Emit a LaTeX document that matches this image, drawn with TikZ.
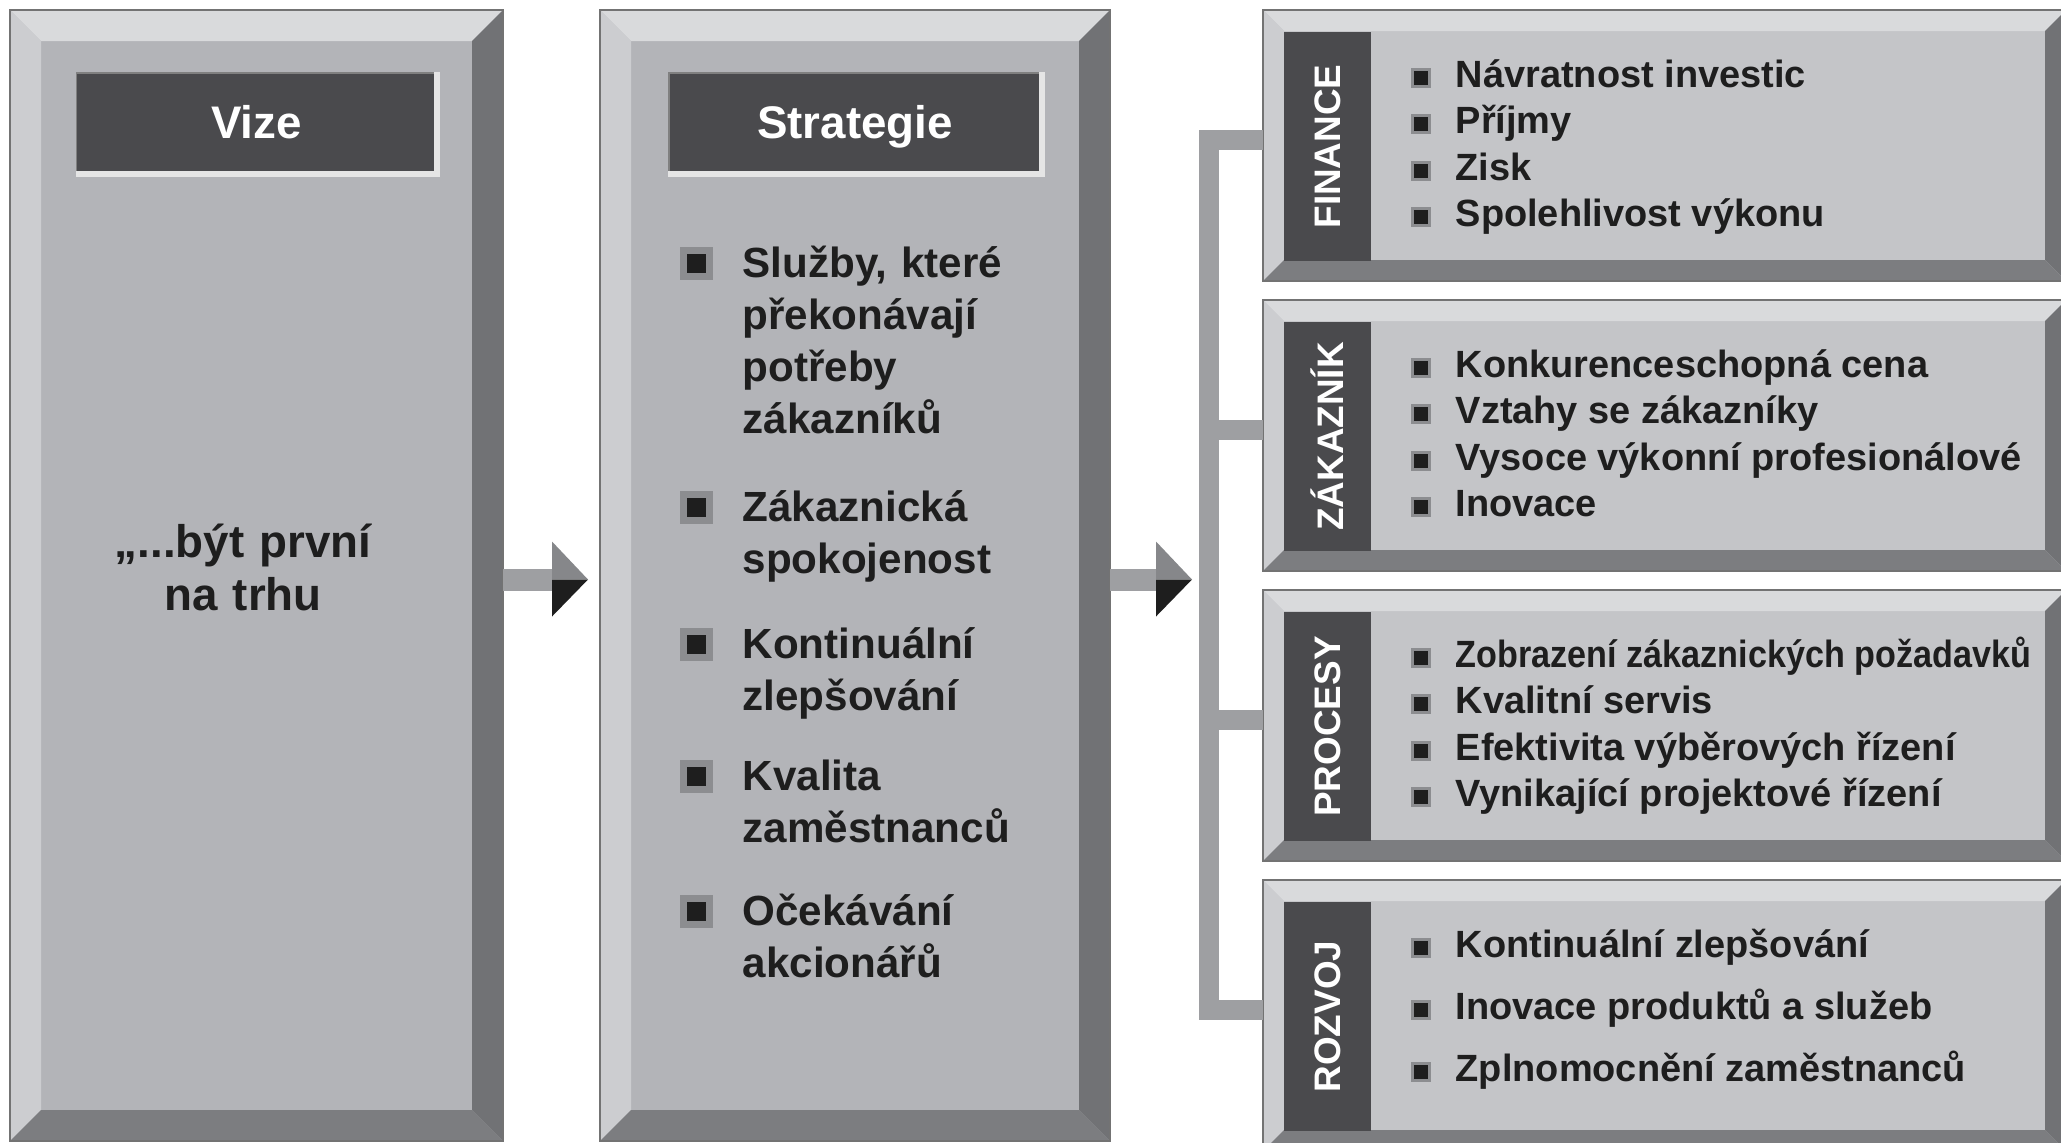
\documentclass[tikz,border=0pt]{standalone}
\usepackage{fontspec}
\setmainfont{Liberation Sans}
\usepackage{tikz}
\usetikzlibrary{positioning}
\definecolor{bsface}{RGB}{179,180,184}
\definecolor{rpface}{RGB}{196,197,200}
\definecolor{bvlight}{RGB}{217,218,220}
\definecolor{bvside}{RGB}{204,205,208}
\definecolor{bvdark}{RGB}{113,114,117}
\definecolor{bvbottom}{RGB}{124,125,128}
\definecolor{titledark}{RGB}{74,74,77}
\definecolor{linkgray}{RGB}{158,159,162}
\definecolor{headgray}{RGB}{134,135,138}
\definecolor{inkdark}{RGB}{30,30,30}
\definecolor{bulhalo}{RGB}{140,141,144}

\begin{document}
\begin{tikzpicture}[
  panel/.style={inner sep=0, outer sep=0, anchor=north west},
  bigpanel/.style={panel, fill=bsface, minimum height=11.31cm},
  rowpanel/.style={panel, fill=rpface, minimum width=8.03cm, minimum height=2.71cm},
  ttlbox/.style={fill=titledark, draw=black!50, line width=0.4pt, minimum height=1cm,
                 inner sep=0, text height=0.9em, text depth=0pt, text=white,
                 font=\fontsize{13}{15}\selectfont\bfseries},
  titlelit/.style={draw=white!90!black, line width=0.06cm},
  strip/.style={panel, fill=titledark, minimum width=0.87cm, minimum height=2.29cm},
  striplab/.style={rotate=90, inner sep=0, text=white, font=\fontsize{10.5}{12}\selectfont\bfseries},
  vtext/.style={anchor=base, inner sep=0, text width=3.6cm, align=center, text=inkdark,
                font=\fontsize{13}{15.2}\selectfont\bfseries},
  sitem/.style={anchor=base west, inner sep=0, text width=3.6cm, align=left, text=inkdark,
                font=\fontsize{12}{14.8}\selectfont\bfseries},
  ritem/.style={anchor=base west, inner sep=0, text=inkdark,
                font=\fontsize{10.8}{13}\selectfont\bfseries},
  sbul/.style={minimum size=0.26cm, inner sep=0, fill=inkdark, draw=bulhalo, line width=0.07cm},
  rbul/.style={minimum size=0.17cm, inner sep=0, fill=inkdark, draw=bulhalo, line width=0.03cm},
  link/.style={draw=linkgray, line width=0.2cm},
  shaft/.style={fill=linkgray},
]
\clip (0,0) rectangle (20.61,-11.42);
% ---- panels
\node[bigpanel, minimum width=4.93cm] (vize) at (0.10,-0.10) {};
\node[bigpanel, minimum width=5.10cm, right=0.97cm of vize] (strat) {};
\node[rowpanel] (fin) at (12.63,-0.10) {};
\node[rowpanel, below=0.19cm of fin] (zak) {};
\node[rowpanel, below=0.19cm of zak] (proc) {};
\node[rowpanel, below=0.19cm of proc] (rozv) {};
% bevelled rims
\foreach \p/\bw in {vize/0.31, strat/0.31, fin/0.21, zak/0.21, proc/0.21, rozv/0.21} {
  \fill[bvlight] (\p.north west) -- (\p.north east) -- ([shift={(-\bw,-\bw)}]\p.north east)
    -- ([shift={(\bw,-\bw)}]\p.north west) -- cycle;
  \fill[bvside] (\p.north west) -- ([shift={(\bw,-\bw)}]\p.north west)
    -- ([shift={(\bw,\bw)}]\p.south west) -- (\p.south west) -- cycle;
  \fill[bvdark] (\p.north east) -- (\p.south east) -- ([shift={(-\bw,\bw)}]\p.south east)
    -- ([shift={(-\bw,-\bw)}]\p.north east) -- cycle;
  \fill[bvbottom] (\p.south west) -- (\p.south east) -- ([shift={(-\bw,\bw)}]\p.south east)
    -- ([shift={(\bw,\bw)}]\p.south west) -- cycle;
  \draw[black!55, line width=0.4pt] (\p.north west) rectangle (\p.south east);
}
% ---- headings
\node[ttlbox, minimum width=3.60cm] (vt) at ([yshift=-1.13cm]vize.north) {Vize};
\node[ttlbox, minimum width=3.72cm] (st) at ([yshift=-1.13cm]strat.north) {Strategie};
\foreach \t in {vt, st}
  \draw[titlelit] (\t.north east) -- (\t.south east) -- (\t.south west);
% ---- vision text
\node[vtext] (vtxt) at (2.43,-5.57) {„...být první\\na trhu};
% ---- strategy items (first baseline of each item)
\foreach \y/\txt [count=\i] in {2.77/{Služby, které\\překonávají\\potřeby\\zákazníků},
    5.21/{Zákaznická\\spokojenost}, 6.58/{Kontinuální\\zlepšování},
    7.90/{Kvalita\\zaměstnanců}, 9.25/{Očekávání\\akcionářů}} {
  \node[sbul] (sb\i) at (6.965,-\y+0.14) {};
  \node[sitem] (si\i) at (7.42,-\y) {\txt};
}
% ---- perspective rows
\foreach \p/\lab/\gap/\items in {
    fin/FINANCE/0.465/{Návratnost investic, Příjmy, Zisk, Spolehlivost výkonu},
    zak/ZÁKAZNÍK/0.465/{Konkurenceschopná cena, Vztahy se zákazníky,
      Vysoce výkonní profesionálové, Inovace},
    proc/PROCESY/0.465/{{\scalebox{0.9}[1]{Zobrazení zákaznických požadavků}}, Kvalitní servis,
      Efektivita výběrových řízení, Vynikající projektové řízení},
    rozv/ROZVOJ/0.62/{Kontinuální zlepšování, Inovace produktů a služeb,
      Zplnomocnění zaměstnanců}} {
  \node[strip] (\p-lab) at ([shift={(0.21,-0.22)}]\p.north west) {};
  \node[striplab] at (\p-lab) {\lab};
  \foreach \entry [count=\k] in \items {
    \pgfmathsetmacro{\yy}{-0.77-(\k-1)*\gap}
    \node[rbul] at ([shift={(1.58,\yy+0.095)}]\p.north west) {};
    \node[ritem] at ([shift={(1.92,\yy)}]\p.north west) {\entry};
  }
}
% ---- bracket feeding the four rows (stubs sit a little above centre)
\coordinate (tipA) at ([xshift=-0.12cm,yshift=-0.04cm]strat.west);
\path (fin.west |- tipA) ++(-0.54,0) coordinate (spine);
\coordinate (tipB) at ([xshift=-0.17cm]spine);
\draw[link] ([yshift=0.06cm]fin.west) -| (spine) |- ([yshift=0.06cm]rozv.west);
\foreach \p in {zak, proc}
  \draw[link] ([yshift=0.06cm]\p.west) -- ++(-0.54,0);
% ---- arrows: grey shaft, two-tone head
\foreach \from/\tp in {vize/tipA, strat/tipB} {
  \path (\from.east |- \tp) coordinate (tail);
  \fill[shaft] ([yshift=0.11cm]tail) rectangle ([shift={(-0.36,-0.11)}]\tp);
  \fill[headgray] ([shift={(-0.36,0.38)}]\tp) -- (\tp) -- ([xshift=-0.36cm]\tp) -- cycle;
  \fill[inkdark] ([shift={(-0.36,-0.37)}]\tp) -- (\tp) -- ([xshift=-0.36cm]\tp) -- cycle;
}
\end{tikzpicture}
\end{document}
